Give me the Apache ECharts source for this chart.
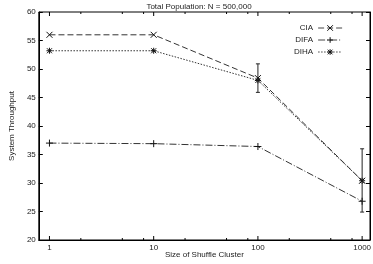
<!DOCTYPE html>
<html><head><meta charset="utf-8">
<script src="https://cdn.jsdelivr.net/npm/echarts@6/dist/echarts.min.js"></script>
<style>html,body{margin:0;padding:0;background:#fff}#c{width:373px;height:264px}</style>
</head><body><div id="c"></div>
<script>
const sizes = [1, 10, 100, 1000];
const cia = [56, 56, 48.4, 30.4];
const difa = [37, 36.9, 36.4, 26.8];
const diha = [53.2, 53.2, 48.0, 30.4];
const dihaLow = [null, null, 45.9, 24.9];
const dihaHigh = [null, null, 50.9, 36.0];
const majorTicks = [1, 10, 100, 1000];
const minorTicks = [2, 5, 8, 20, 50, 80, 200, 500, 800];
const yTicks = [20, 25, 30, 35, 40, 45, 50, 55, 60];

const FONT = 'Liberation Sans';
const LC = '#333';
const crossP = 'path://M0,0L10,10M10,0L0,10';
const plusP = 'path://M5,0L5,10M0,5L10,5';
const starP = 'path://M0,0L10,10M10,0L0,10M5,-1L5,11M-1,5L11,5';

function pts(arr){ return sizes.map((s,i)=>[s, arr[i]]); }

const tickData = majorTicks.map(v=>[v,1]).concat(minorTicks.map(v=>[v,0]));
const errData = sizes.map((s,i)=>[s, dihaLow[i], dihaHigh[i]]).filter(d=>d[1]!=null);

const mstyle = {color:'transparent', borderColor:'#111', borderWidth:1};

const chart = echarts.init(document.getElementById('c'), null, {renderer:'canvas'});
chart.setOption({
  animation:false,
  title:{text:'Total Population: N = 500,000', left:194, textAlign:'center', top:-2,
    textStyle:{fontFamily:FONT, fontSize:8, fontWeight:'normal', color:'#222'}},
  grid:{left:18, right:3, top:12, bottom:19, show:true, borderColor:'#000', borderWidth:1, backgroundColor:'transparent'},
  legend:{orient:'vertical', left:289, top:19, itemWidth:24, itemHeight:7, itemGap:4, align:'right',
    formatter:'{a|{name}}',
    itemStyle:{color:'transparent', borderColor:'#111', borderWidth:1},
    lineStyle:{width:1, color:'#444'},
    textStyle:{fontFamily:FONT, fontSize:8, color:'#222', rich:{a:{width:28, fontSize:8, fontFamily:FONT}}},
    data:['CIA','DIFA','DIHA']},
  xAxis:{type:'log', logBase:10, min:0.79, max:1190,
    axisLine:{show:true, lineStyle:{color:'#000', width:1}},
    axisTick:{show:false}, axisLabel:{show:false}, splitLine:{show:false}, minorTick:{show:false},
    name:'Size of Shuffle Cluster', nameLocation:'middle', nameGap:11,
    nameTextStyle:{fontFamily:FONT, fontSize:8, color:'#222'}},
  yAxis:[{type:'value', min:20, max:60, interval:5, position:'left',
    axisLine:{show:true, lineStyle:{color:'#000'}},
    axisTick:{show:true, inside:true, length:4, lineStyle:{color:'#000'}},
    axisLabel:{fontFamily:FONT, fontSize:8, color:'#222', margin:3},
    splitLine:{show:false},
    name:'System Throughput', nameLocation:'middle', nameGap:13, nameRotate:90,
    nameTextStyle:{fontFamily:FONT, fontSize:8, color:'#222'}},
   {type:'value', min:20, max:60, interval:5, position:'right',
    axisLine:{show:true, lineStyle:{color:'#000'}},
    axisTick:{show:true, inside:true, length:4, lineStyle:{color:'#000'}},
    axisLabel:{show:false}, splitLine:{show:false}}],
  series:[
    {name:'CIA', type:'line', data:pts(cia), symbol:crossP, symbolSize:6, showSymbol:true,
      lineStyle:{color:LC, width:1, type:[6,3]}, itemStyle:mstyle, z:3},
    {name:'DIFA', type:'line', data:pts(difa), symbol:plusP, symbolSize:7,
      lineStyle:{color:LC, width:1, type:[7,2,1,2]}, itemStyle:mstyle, z:3},
    {name:'DIHA', type:'line', data:pts(diha), symbol:starP, symbolSize:6,
      lineStyle:{color:LC, width:1, type:[1.5,1.5]}, itemStyle:mstyle, z:3},
    {type:'custom', data:errData, clip:false, z:4,
      renderItem:function(params, api){
        const x = api.value(0);
        const a = api.coord([x, api.value(1)]);
        const b = api.coord([x, api.value(2)]);
        const w = 2;
        const st = {stroke:'#222', lineWidth:1};
        return {type:'group', children:[
          {type:'line', shape:{x1:a[0],y1:a[1],x2:b[0],y2:b[1]}, style:st},
          {type:'line', shape:{x1:a[0]-w,y1:a[1],x2:a[0]+w,y2:a[1]}, style:st},
          {type:'line', shape:{x1:b[0]-w,y1:b[1],x2:b[0]+w,y2:b[1]}, style:st}
        ]};
      }},
    {type:'custom', data:tickData, clip:false, z:5, silent:true,
      renderItem:function(params, api){
        const v = api.value(0), major = api.value(1) === 1;
        const bot = api.coord([v, 20]);
        const top = api.coord([v, 60]);
        const L = major ? 4 : 2;
        const st = {stroke:'#000', lineWidth:1};
        const ch = [
          {type:'line', shape:{x1:bot[0],y1:bot[1],x2:bot[0],y2:bot[1]-L}, style:st},
          {type:'line', shape:{x1:top[0],y1:top[1],x2:top[0],y2:top[1]+L}, style:st}
        ];
        if (major) ch.push({type:'text', x:bot[0], y:bot[1]+4,
          style:{text:String(v), fill:'#222', font:'8px "Liberation Sans"', align:'center', verticalAlign:'top'}});
        return {type:'group', children:ch};
      }}
  ]
});
</script></body></html>
